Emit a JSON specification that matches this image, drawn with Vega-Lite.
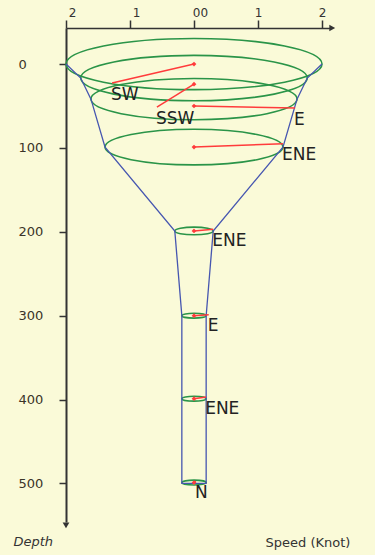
{
  "$schema": "https://vega.github.io/schema/vega-lite/v6.json",
  "width": 264,
  "height": 494,
  "autosize": {"type": "none"},
  "padding": {"left": 66, "top": 28, "right": 45, "bottom": 33},
  "background": "#FAFAD8",
  "config": {"view": {"stroke": null}, "font": "DejaVu Sans"},
  "datasets": {
    "rings": [
      {"depth": 0, "radius": 2.0},
      {"depth": 16.7, "radius": 1.77},
      {"depth": 41.8, "radius": 1.61},
      {"depth": 99, "radius": 1.39},
      {"depth": 199, "radius": 0.3},
      {"depth": 300, "radius": 0.19},
      {"depth": 399, "radius": 0.19},
      {"depth": 499, "radius": 0.19}
    ],
    "funnel": [
      {"i": 1, "x": -2, "depth": 0},
      {"i": 2, "x": -1.77, "depth": 16.7},
      {"i": 3, "x": -1.61, "depth": 41.8},
      {"i": 4, "x": -1.39, "depth": 99},
      {"i": 5, "x": -0.3, "depth": 199},
      {"i": 6, "x": -0.19, "depth": 300},
      {"i": 7, "x": -0.19, "depth": 400},
      {"i": 8, "x": -0.19, "depth": 500},
      {"i": 9, "x": 0.19, "depth": 500},
      {"i": 10, "x": 0.19, "depth": 400},
      {"i": 11, "x": 0.19, "depth": 300},
      {"i": 12, "x": 0.3, "depth": 199},
      {"i": 13, "x": 1.39, "depth": 99},
      {"i": 14, "x": 1.61, "depth": 41.8},
      {"i": 15, "x": 1.77, "depth": 16.7},
      {"i": 16, "x": 2, "depth": 0}
    ],
    "vectors": [
      {"depth": 0, "tipX": -1.28, "tipDepth": 22.7, "dir": "SW"},
      {"depth": 24, "tipX": -0.58, "tipDepth": 51.3, "dir": "SSW"},
      {"depth": 50, "tipX": 1.58, "tipDepth": 52.5, "dir": "E"},
      {"depth": 99, "tipX": 1.39, "tipDepth": 94.9, "dir": "ENE"},
      {"depth": 199, "tipX": 0.3, "tipDepth": 197, "dir": "ENE"},
      {"depth": 300, "tipX": 0.23, "tipDepth": 299, "dir": "E"},
      {"depth": 399, "tipX": 0.19, "tipDepth": 397, "dir": "ENE"},
      {"depth": 499, "tipX": 0.03, "tipDepth": 497.5, "dir": "N"}
    ]
  },
  "layer": [
    {
      "data": {"name": "rings"},
      "mark": {
        "type": "point",
        "shape": "M-1,0C-1,-0.1105,-0.5523,-0.2,0,-0.2C0.5523,-0.2,1,-0.1105,1,0C1,0.1105,0.5523,0.2,0,0.2C-0.5523,0.2,-1,0.1105,-1,0Z",
        "filled": false,
        "stroke": "#2A9448",
        "strokeWidth": 1.6,
        "opacity": 1
      },
      "encoding": {
        "x": {
          "datum": 0,
          "type": "quantitative",
          "scale": {"domain": [-2, 2.125], "nice": false, "zero": false},
          "axis": {
            "orient": "top",
            "values": [-2, -1, 0, 1, 2],
            "labelExpr": "datum.value == 0 ? '00' : format(abs(datum.value), 'd')",
            "grid": false,
            "tickSize": 8,
            "tickWidth": 1.5,
            "tickColor": "#333333",
            "domainColor": "#333333",
            "domainWidth": 1.5,
            "labelPadding": 1,
            "labelFontSize": 12,
            "labelColor": "#333333",
            "labelFlush": false,
            "labelOffset": {"condition": {"test": "datum.value <= 0", "value": 6}, "value": 0},
            "title": "Speed (Knot)",
            "titleX": 199,
            "titleY": 518,
            "titleAlign": "left",
            "titleAngle": 0,
            "titleBaseline": "alphabetic",
            "titleFontSize": 13,
            "titleFontWeight": "normal",
            "titleColor": "#333333"
          }
        },
        "y": {
          "field": "depth",
          "type": "quantitative",
          "scale": {"domain": [-43, 546], "nice": false, "zero": false, "reverse": true},
          "axis": {
            "orient": "left",
            "values": [0, 100, 200, 300, 400, 500],
            "grid": false,
            "tickSize": 7,
            "tickWidth": 1.5,
            "tickColor": "#333333",
            "domainColor": "#333333",
            "domainWidth": 2,
            "labelAlign": "left",
            "labelPadding": 41,
            "labelFontSize": 13,
            "labelColor": "#3a3428",
            "title": "Depth",
            "titleX": -53,
            "titleY": 517,
            "titleAlign": "left",
            "titleAngle": 0,
            "titleBaseline": "alphabetic",
            "titleFontSize": 13,
            "titleFontStyle": "italic",
            "titleFontWeight": "normal",
            "titleColor": "#333333"
          }
        },
        "size": {
          "field": "radius",
          "type": "quantitative",
          "scale": {"type": "pow", "exponent": 2, "domain": [0, 2], "range": [0, 65536]},
          "legend": null
        }
      }
    },
    {
      "data": {"name": "funnel"},
      "mark": {"type": "line", "stroke": "#4656B0", "strokeWidth": 1.3},
      "encoding": {
        "x": {"field": "x", "type": "quantitative"},
        "y": {"field": "depth", "type": "quantitative"},
        "order": {"field": "i", "type": "quantitative"}
      }
    },
    {
      "data": {"name": "vectors"},
      "mark": {"type": "rule", "stroke": "#FF3B3B", "strokeWidth": 1.5},
      "encoding": {
        "x": {"field": "tipX", "type": "quantitative"},
        "y": {"field": "tipDepth", "type": "quantitative"},
        "x2": {"datum": 0},
        "y2": {"field": "depth"}
      }
    },
    {
      "data": {"name": "vectors"},
      "mark": {"type": "point", "shape": "diamond", "filled": true, "color": "#FF3B3B", "size": 22, "opacity": 1},
      "encoding": {
        "x": {"datum": 0, "type": "quantitative"},
        "y": {"field": "depth", "type": "quantitative"}
      }
    },
    {
      "data": {"name": "vectors"},
      "mark": {"type": "text", "align": "left", "baseline": "alphabetic", "dx": -1, "dy": 16.5, "fontSize": 17, "color": "#222222", "font": "DejaVu Sans"},
      "encoding": {
        "x": {"field": "tipX", "type": "quantitative"},
        "y": {"field": "tipDepth", "type": "quantitative"},
        "text": {"field": "dir"}
      }
    },
    {
      "data": {"values": [{"arrow": "x"}]},
      "mark": {"type": "point", "shape": "triangle-right", "filled": true, "color": "#333333", "size": 45, "opacity": 1},
      "encoding": {
        "x": {"datum": 2.16, "type": "quantitative"},
        "y": {"datum": -43, "type": "quantitative"}
      }
    },
    {
      "data": {"values": [{"arrow": "y"}]},
      "mark": {"type": "point", "shape": "triangle-down", "filled": true, "color": "#333333", "size": 45, "opacity": 1},
      "encoding": {
        "x": {"datum": -2, "type": "quantitative"},
        "y": {"datum": 550, "type": "quantitative"}
      }
    }
  ]
}
